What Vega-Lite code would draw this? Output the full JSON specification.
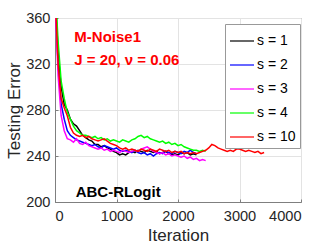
{
"$schema":"https://vega.github.io/schema/vega-lite/v6.json",
"width":246,"height":184,
"autosize":{"type":"none"},
"padding":{"left":55,"top":18,"right":31,"bottom":47},
"background":"white",
"config":{
 "font":"Liberation Sans",
 "view":{"stroke":"#7f7f7f","strokeWidth":1},
 "axis":{"labelFont":"Liberation Sans","labelFontSize":14.6,"labelColor":"#262626","titleFont":"Liberation Sans","titleFontSize":17,"titleFontWeight":"normal","titleColor":"#262626","domainColor":"#7f7f7f","tickColor":"#7f7f7f","gridColor":"#e3e3e3","grid":true,"tickSize":-3},
 "axisX":{"labelPadding":9,"titlePadding":5},
 "axisY":{"labelPadding":8,"titlePadding":2}
},
"datasets":{
"lines":[
{"s":"s = 1","iter":10,"err":375},{"s":"s = 1","iter":50,"err":330},{"s":"s = 1","iter":100,"err":300},{"s":"s = 1","iter":150,"err":285},{"s":"s = 1","iter":200,"err":280},{"s":"s = 1","iter":250,"err":272},{"s":"s = 1","iter":300,"err":268},{"s":"s = 1","iter":350,"err":266},{"s":"s = 1","iter":400,"err":262},{"s":"s = 1","iter":450,"err":258},{"s":"s = 1","iter":500,"err":256},{"s":"s = 1","iter":550,"err":254},{"s":"s = 1","iter":600,"err":253},{"s":"s = 1","iter":650,"err":250},{"s":"s = 1","iter":700,"err":250},{"s":"s = 1","iter":750,"err":248},{"s":"s = 1","iter":800,"err":249},{"s":"s = 1","iter":850,"err":247},{"s":"s = 1","iter":900,"err":246},{"s":"s = 1","iter":950,"err":244},{"s":"s = 1","iter":1000,"err":243},{"s":"s = 1","iter":1050,"err":241},{"s":"s = 1","iter":1100,"err":242},{"s":"s = 1","iter":1150,"err":241},{"s":"s = 1","iter":1200,"err":243},{"s":"s = 1","iter":1250,"err":244},{"s":"s = 1","iter":1300,"err":243},{"s":"s = 1","iter":1350,"err":245},{"s":"s = 1","iter":1400,"err":244},{"s":"s = 1","iter":1450,"err":243},{"s":"s = 1","iter":1500,"err":245},{"s":"s = 1","iter":1550,"err":244},{"s":"s = 1","iter":1600,"err":243},{"s":"s = 1","iter":1650,"err":244},{"s":"s = 1","iter":1700,"err":242},{"s":"s = 1","iter":1750,"err":243},{"s":"s = 1","iter":1800,"err":244},{"s":"s = 1","iter":1850,"err":242},{"s":"s = 1","iter":1900,"err":241},{"s":"s = 1","iter":1950,"err":242},{"s":"s = 1","iter":2000,"err":241},{"s":"s = 1","iter":2050,"err":243},{"s":"s = 1","iter":2100,"err":242},{"s":"s = 1","iter":2150,"err":243},{"s":"s = 1","iter":2200,"err":241},{"s":"s = 1","iter":2250,"err":242},{"s":"s = 1","iter":2300,"err":241},
{"s":"s = 2","iter":10,"err":370},{"s":"s = 2","iter":50,"err":320},{"s":"s = 2","iter":100,"err":285},{"s":"s = 2","iter":150,"err":272},{"s":"s = 2","iter":200,"err":262},{"s":"s = 2","iter":250,"err":258},{"s":"s = 2","iter":300,"err":256},{"s":"s = 2","iter":350,"err":254},{"s":"s = 2","iter":400,"err":253},{"s":"s = 2","iter":450,"err":252},{"s":"s = 2","iter":500,"err":251},{"s":"s = 2","iter":550,"err":250},{"s":"s = 2","iter":600,"err":249},{"s":"s = 2","iter":650,"err":250},{"s":"s = 2","iter":700,"err":248},{"s":"s = 2","iter":750,"err":247},{"s":"s = 2","iter":800,"err":249},{"s":"s = 2","iter":850,"err":248},{"s":"s = 2","iter":900,"err":247},{"s":"s = 2","iter":950,"err":246},{"s":"s = 2","iter":1000,"err":247},{"s":"s = 2","iter":1050,"err":245},{"s":"s = 2","iter":1100,"err":244},{"s":"s = 2","iter":1150,"err":245},{"s":"s = 2","iter":1200,"err":244},{"s":"s = 2","iter":1250,"err":243},{"s":"s = 2","iter":1300,"err":245},{"s":"s = 2","iter":1350,"err":243},{"s":"s = 2","iter":1400,"err":242},{"s":"s = 2","iter":1450,"err":243},{"s":"s = 2","iter":1500,"err":241},{"s":"s = 2","iter":1550,"err":242},{"s":"s = 2","iter":1600,"err":240},{"s":"s = 2","iter":1650,"err":242},{"s":"s = 2","iter":1700,"err":243},{"s":"s = 2","iter":1750,"err":242},{"s":"s = 2","iter":1800,"err":244},{"s":"s = 2","iter":1850,"err":243},{"s":"s = 2","iter":1900,"err":242},{"s":"s = 2","iter":1950,"err":244},{"s":"s = 2","iter":2000,"err":243},{"s":"s = 2","iter":2050,"err":242},{"s":"s = 2","iter":2100,"err":244},{"s":"s = 2","iter":2150,"err":243},{"s":"s = 2","iter":2200,"err":245},{"s":"s = 2","iter":2250,"err":243},{"s":"s = 2","iter":2300,"err":242},
{"s":"s = 3","iter":10,"err":365},{"s":"s = 3","iter":50,"err":310},{"s":"s = 3","iter":100,"err":275},{"s":"s = 3","iter":150,"err":262},{"s":"s = 3","iter":200,"err":255},{"s":"s = 3","iter":250,"err":254},{"s":"s = 3","iter":300,"err":252},{"s":"s = 3","iter":350,"err":255},{"s":"s = 3","iter":400,"err":251},{"s":"s = 3","iter":450,"err":250},{"s":"s = 3","iter":500,"err":252},{"s":"s = 3","iter":550,"err":249},{"s":"s = 3","iter":600,"err":248},{"s":"s = 3","iter":650,"err":247},{"s":"s = 3","iter":700,"err":246},{"s":"s = 3","iter":750,"err":247},{"s":"s = 3","iter":800,"err":245},{"s":"s = 3","iter":850,"err":246},{"s":"s = 3","iter":900,"err":244},{"s":"s = 3","iter":950,"err":245},{"s":"s = 3","iter":1000,"err":244},{"s":"s = 3","iter":1050,"err":243},{"s":"s = 3","iter":1100,"err":245},{"s":"s = 3","iter":1150,"err":244},{"s":"s = 3","iter":1200,"err":243},{"s":"s = 3","iter":1250,"err":244},{"s":"s = 3","iter":1300,"err":245},{"s":"s = 3","iter":1350,"err":244},{"s":"s = 3","iter":1400,"err":246},{"s":"s = 3","iter":1450,"err":247},{"s":"s = 3","iter":1500,"err":248},{"s":"s = 3","iter":1550,"err":246},{"s":"s = 3","iter":1600,"err":244},{"s":"s = 3","iter":1650,"err":243},{"s":"s = 3","iter":1700,"err":242},{"s":"s = 3","iter":1750,"err":243},{"s":"s = 3","iter":1800,"err":241},{"s":"s = 3","iter":1850,"err":242},{"s":"s = 3","iter":1900,"err":240},{"s":"s = 3","iter":1950,"err":241},{"s":"s = 3","iter":2000,"err":240},{"s":"s = 3","iter":2050,"err":239},{"s":"s = 3","iter":2100,"err":240},{"s":"s = 3","iter":2150,"err":238},{"s":"s = 3","iter":2200,"err":239},{"s":"s = 3","iter":2250,"err":237},{"s":"s = 3","iter":2300,"err":238},{"s":"s = 3","iter":2350,"err":236},{"s":"s = 3","iter":2400,"err":237},{"s":"s = 3","iter":2450,"err":236},
{"s":"s = 4","iter":10,"err":380},{"s":"s = 4","iter":50,"err":340},{"s":"s = 4","iter":100,"err":305},{"s":"s = 4","iter":150,"err":290},{"s":"s = 4","iter":200,"err":278},{"s":"s = 4","iter":250,"err":272},{"s":"s = 4","iter":300,"err":266},{"s":"s = 4","iter":350,"err":262},{"s":"s = 4","iter":400,"err":260},{"s":"s = 4","iter":450,"err":258},{"s":"s = 4","iter":500,"err":258},{"s":"s = 4","iter":550,"err":257},{"s":"s = 4","iter":600,"err":256},{"s":"s = 4","iter":650,"err":257},{"s":"s = 4","iter":700,"err":255},{"s":"s = 4","iter":750,"err":256},{"s":"s = 4","iter":800,"err":254},{"s":"s = 4","iter":850,"err":255},{"s":"s = 4","iter":900,"err":253},{"s":"s = 4","iter":950,"err":254},{"s":"s = 4","iter":1000,"err":253},{"s":"s = 4","iter":1050,"err":252},{"s":"s = 4","iter":1100,"err":254},{"s":"s = 4","iter":1150,"err":253},{"s":"s = 4","iter":1200,"err":252},{"s":"s = 4","iter":1250,"err":254},{"s":"s = 4","iter":1300,"err":255},{"s":"s = 4","iter":1350,"err":257},{"s":"s = 4","iter":1400,"err":258},{"s":"s = 4","iter":1450,"err":256},{"s":"s = 4","iter":1500,"err":257},{"s":"s = 4","iter":1550,"err":255},{"s":"s = 4","iter":1600,"err":254},{"s":"s = 4","iter":1650,"err":253},{"s":"s = 4","iter":1700,"err":252},{"s":"s = 4","iter":1750,"err":253},{"s":"s = 4","iter":1800,"err":251},{"s":"s = 4","iter":1850,"err":252},{"s":"s = 4","iter":1900,"err":250},{"s":"s = 4","iter":1950,"err":251},{"s":"s = 4","iter":2000,"err":249},{"s":"s = 4","iter":2050,"err":250},{"s":"s = 4","iter":2100,"err":248},{"s":"s = 4","iter":2150,"err":247},{"s":"s = 4","iter":2200,"err":246},{"s":"s = 4","iter":2250,"err":245},{"s":"s = 4","iter":2300,"err":245},{"s":"s = 4","iter":2350,"err":244},{"s":"s = 4","iter":2400,"err":245},{"s":"s = 4","iter":2450,"err":244},
{"s":"s = 10","iter":10,"err":370},{"s":"s = 10","iter":50,"err":320},{"s":"s = 10","iter":100,"err":290},{"s":"s = 10","iter":150,"err":282},{"s":"s = 10","iter":200,"err":275},{"s":"s = 10","iter":250,"err":265},{"s":"s = 10","iter":300,"err":260},{"s":"s = 10","iter":350,"err":258},{"s":"s = 10","iter":400,"err":257},{"s":"s = 10","iter":450,"err":258},{"s":"s = 10","iter":500,"err":256},{"s":"s = 10","iter":550,"err":257},{"s":"s = 10","iter":600,"err":255},{"s":"s = 10","iter":650,"err":254},{"s":"s = 10","iter":700,"err":253},{"s":"s = 10","iter":750,"err":254},{"s":"s = 10","iter":800,"err":255},{"s":"s = 10","iter":850,"err":253},{"s":"s = 10","iter":900,"err":251},{"s":"s = 10","iter":950,"err":250},{"s":"s = 10","iter":1000,"err":249},{"s":"s = 10","iter":1050,"err":247},{"s":"s = 10","iter":1100,"err":246},{"s":"s = 10","iter":1150,"err":247},{"s":"s = 10","iter":1200,"err":245},{"s":"s = 10","iter":1250,"err":246},{"s":"s = 10","iter":1300,"err":245},{"s":"s = 10","iter":1350,"err":244},{"s":"s = 10","iter":1400,"err":246},{"s":"s = 10","iter":1450,"err":245},{"s":"s = 10","iter":1500,"err":244},{"s":"s = 10","iter":1550,"err":246},{"s":"s = 10","iter":1600,"err":245},{"s":"s = 10","iter":1650,"err":244},{"s":"s = 10","iter":1700,"err":246},{"s":"s = 10","iter":1750,"err":245},{"s":"s = 10","iter":1800,"err":244},{"s":"s = 10","iter":1850,"err":245},{"s":"s = 10","iter":1900,"err":243},{"s":"s = 10","iter":1950,"err":244},{"s":"s = 10","iter":2000,"err":243},{"s":"s = 10","iter":2050,"err":244},{"s":"s = 10","iter":2100,"err":242},{"s":"s = 10","iter":2150,"err":243},{"s":"s = 10","iter":2200,"err":242},{"s":"s = 10","iter":2250,"err":243},{"s":"s = 10","iter":2300,"err":242},{"s":"s = 10","iter":2350,"err":243},{"s":"s = 10","iter":2400,"err":244},{"s":"s = 10","iter":2450,"err":245},{"s":"s = 10","iter":2500,"err":247},{"s":"s = 10","iter":2550,"err":250},{"s":"s = 10","iter":2600,"err":249},{"s":"s = 10","iter":2650,"err":247},{"s":"s = 10","iter":2700,"err":246},{"s":"s = 10","iter":2750,"err":245},{"s":"s = 10","iter":2800,"err":244},{"s":"s = 10","iter":2850,"err":245},{"s":"s = 10","iter":2900,"err":244},{"s":"s = 10","iter":2950,"err":246},{"s":"s = 10","iter":3000,"err":246},{"s":"s = 10","iter":3050,"err":245},{"s":"s = 10","iter":3100,"err":244},{"s":"s = 10","iter":3150,"err":245},{"s":"s = 10","iter":3200,"err":244},{"s":"s = 10","iter":3250,"err":243},{"s":"s = 10","iter":3300,"err":244},{"s":"s = 10","iter":3350,"err":242},{"s":"s = 10","iter":3400,"err":243}
],
"red":[{"iter":314,"err":339.4,"label":"M-Noise1"},{"iter":314,"err":319.1,"label":"J = 20, ν = 0.06"}],
"black":[{"iter":336,"err":204.6,"label":"ABC-RLogit"}]
},
"layer":[
{"data":{"name":"lines"},
 "mark":{"type":"line","clip":true,"strokeWidth":1.5},
 "encoding":{
  "x":{"field":"iter","type":"quantitative","scale":{"domain":[0,4000],"nice":false},"axis":{"values":[0,1000,2000,3000,4000],"format":"d","title":"Iteration"}},
  "y":{"field":"err","type":"quantitative","scale":{"domain":[200,360],"nice":false,"zero":false},"axis":{"values":[200,240,280,320,360],"format":"d","title":"Testing Error"}},
  "color":{"field":"s","type":"nominal",
   "scale":{"domain":["s = 1","s = 2","s = 3","s = 4","s = 10"],"range":["#000000","#0000ff","#ff00ff","#00ff00","#ff0000"]},
   "legend":{"orient":"none","legendX":170,"legendY":6,"title":null,"fillColor":"white","strokeColor":"#999999","padding":4,"symbolType":"stroke","symbolSize":576,"symbolStrokeWidth":1.2,"labelFontSize":14,"labelColor":"#000000","labelFont":"Liberation Sans","rowPadding":4,"labelOffset":2,"cornerRadius":0}}
 }},
{"data":{"name":"red"},
 "mark":{"type":"text","color":"#ff0000","fontWeight":"bold","fontSize":15,"align":"left","baseline":"alphabetic","font":"Liberation Sans"},
 "encoding":{"x":{"field":"iter","type":"quantitative"},"y":{"field":"err","type":"quantitative"},"text":{"field":"label"}}},
{"data":{"name":"black"},
 "mark":{"type":"text","color":"#000000","fontWeight":"bold","fontSize":15,"align":"left","baseline":"alphabetic","font":"Liberation Sans"},
 "encoding":{"x":{"field":"iter","type":"quantitative"},"y":{"field":"err","type":"quantitative"},"text":{"field":"label"}}}
]
}
